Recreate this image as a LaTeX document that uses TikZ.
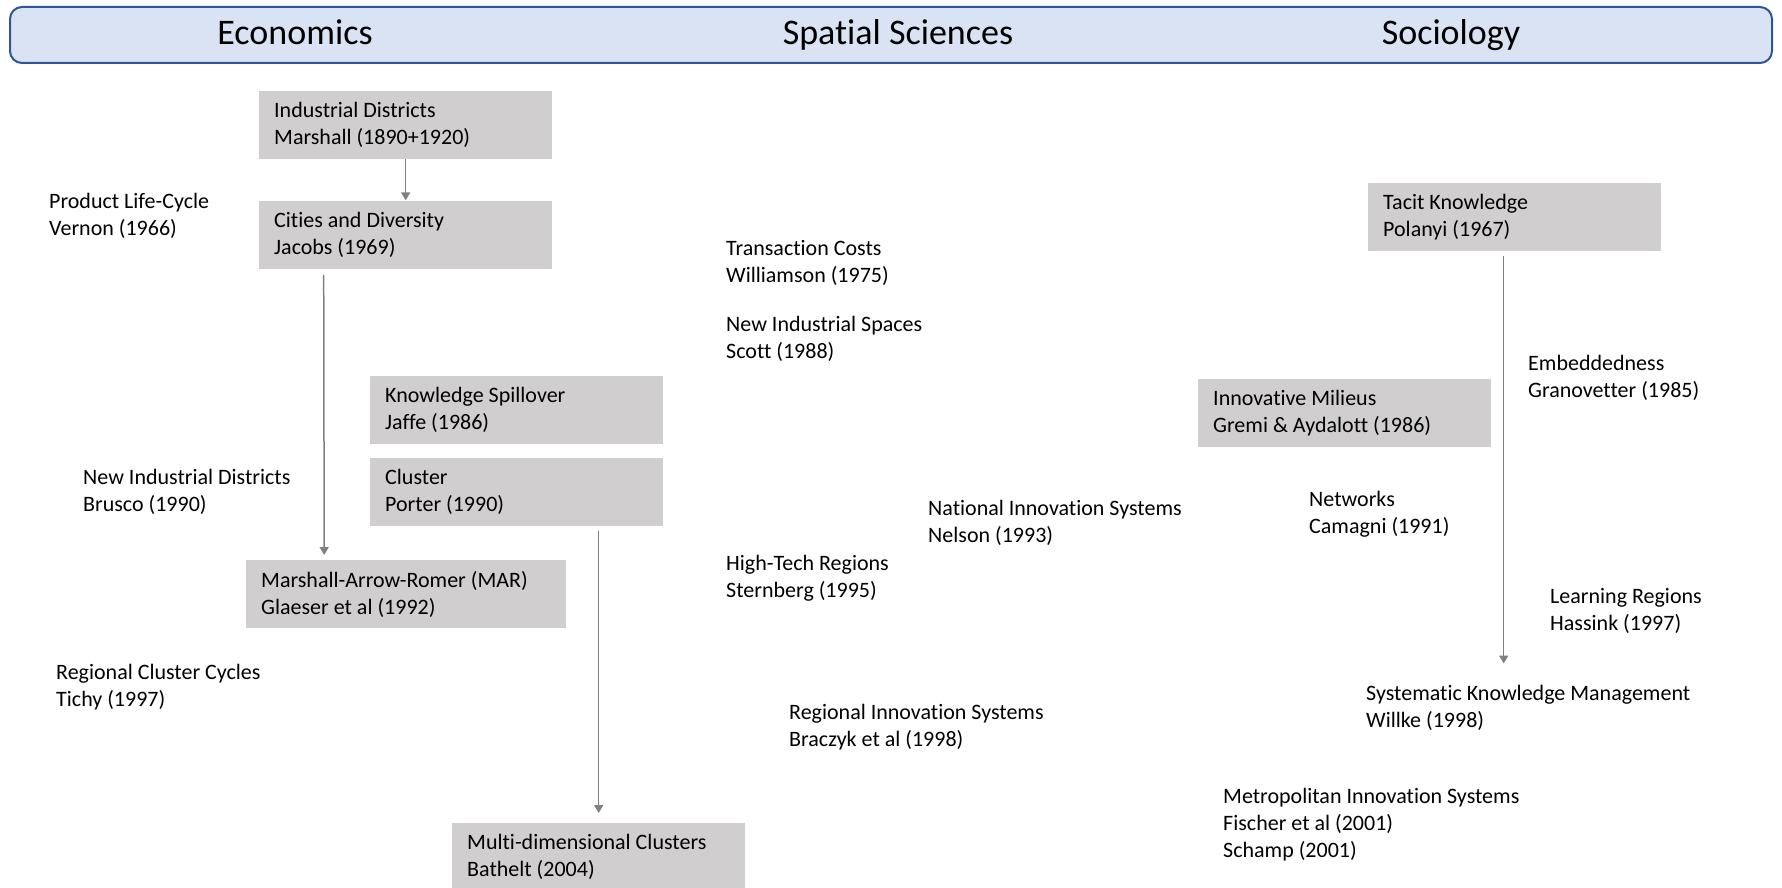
\documentclass[tikz,border=0pt]{standalone}
\usepackage{fontspec}
\setmainfont{Carlito}[Ligatures=NoCommon]
\usetikzlibrary{arrows.meta,positioning}
\definecolor{bandfill}{HTML}{DAE3F3}
\definecolor{bandline}{HTML}{2F5597}
\definecolor{boxgray}{HTML}{D0CECE}
\definecolor{flowgray}{HTML}{808080}

\begin{document}
\begin{tikzpicture}[x=1pt, y=-1pt, >={Triangle[width=9pt,length=8pt]},
  every node/.style={font=\fontsize{22}{27}\selectfont, align=left},
  lit/.style={fill=boxgray, anchor=north west, align=flush left, inner xsep=15pt, inner ysep=0pt, text width=263pt, minimum height=68pt},
  note/.style={anchor=base west, inner sep=0pt},
  head/.style={anchor=base, inner sep=0pt, font=\fontsize{36}{42}\selectfont},
  flow/.style={->, draw=flowgray, line width=1.5pt}]
\useasboundingbox (0,0) rectangle (1782,888);
% header band
\node[draw=bandline, fill=bandfill, line width=2pt, rounded corners=12pt, minimum width=1762pt, minimum height=56pt, anchor=north west, inner sep=0pt] (band) at (9,6) {};
\node[head] (econ) at (295,45) {Economics};
\node[head] (spat) at (898,45) {Spatial Sciences};
\node[head] (soc) at (1451,45) {Sociology};
% shaded boxes
\node[lit] (ind) at (259,91) {Industrial Districts\\Marshall (1890+1920)};
\node[lit, below=41pt of ind] (cit) {Cities and Diversity\\Jacobs (1969)};
\node[lit] (spill) at (370,376) {Knowledge Spillover\\Jaffe (1986)};
\node[lit, below=13pt of spill] (clu) {Cluster\\Porter (1990)};
\node[lit, text width=290pt] (mar) at (246,560) {Marshall-Arrow-Romer (MAR)\\Glaeser et al (1992)};
\node[lit] (multi) at (452,823) {Multi-dimensional Clusters\\Bathelt (2004)};
\node[lit] (tacit) at (1368,183) {Tacit Knowledge\\Polanyi (1967)};
\node[lit] (mil) at (1198,379) {Innovative Milieus\\Gremi \& Aydalott (1986)};
% plain entries (placed at the baseline of their last line)
\node[note] (plc) at (49,235) {Product Life-Cycle\\Vernon (1966)};
\node[note] (nid) at (83,511) {New Industrial Districts\\Brusco (1990)};
\node[note] (rcc) at (56,706) {Regional Cluster Cycles\\Tichy (1997)};
\node[note] (tc) at (726,282) {Transaction Costs\\Williamson (1975)};
\node[note] (nis) at (726,358) {New Industrial Spaces\\Scott (1988)};
\node[note] (nat) at (928,542) {National Innovation Systems\\Nelson (1993)};
\node[note] (htr) at (726,597) {High-Tech Regions\\Sternberg (1995)};
\node[note] (ris) at (789,746) {Regional Innovation Systems\\Braczyk et al (1998)};
\node[note] (emb) at (1528,397) {Embeddedness\\Granovetter (1985)};
\node[note] (net) at (1309,533) {Networks\\Camagni (1991)};
\node[note] (lr) at (1550,630) {Learning Regions\\Hassink (1997)};
\node[note] (skm) at (1366,727) {Systematic Knowledge Management\\Willke (1998)};
\node[note] (mis) at (1223,857) {Metropolitan Innovation Systems\\Fischer et al (2001)\\Schamp (2001)};
% arrows
\draw[flow] (ind) -- (cit);
\draw[flow, shorten <=6pt, shorten >=5pt] ([xshift=-82pt]cit.south) -- ([xshift=-82pt]mar.north);
\draw[flow, shorten <=5pt, shorten >=10pt] (clu.south -| multi.north) -- (multi.north);
\draw[flow, shorten <=5pt, shorten >=21pt] ([xshift=-11pt]tacit.south) -- ([xshift=-11pt]tacit.south |- skm.north);
\end{tikzpicture}
\end{document}
